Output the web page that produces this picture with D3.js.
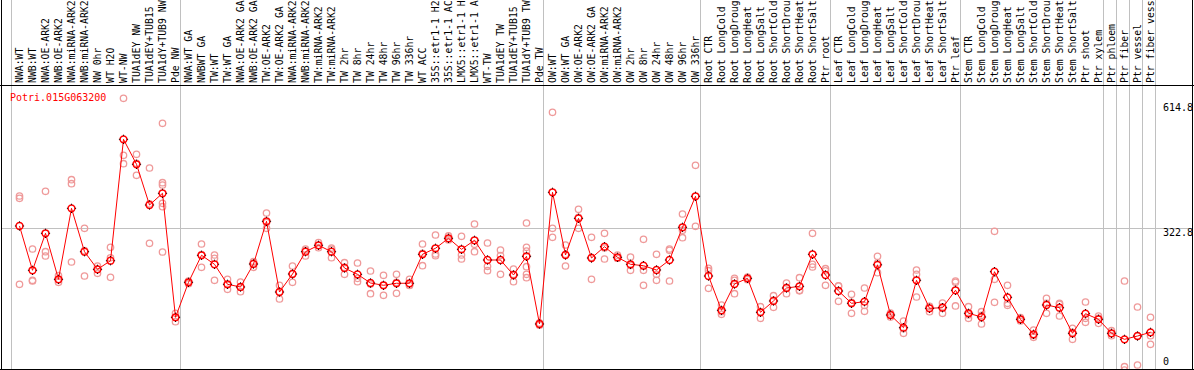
<!DOCTYPE html>
<html>
<head>
<meta charset="utf-8">
<script src="https://cdn.jsdelivr.net/npm/d3@7"></script>
<style>
  body { margin: 0; background: #fff; }
  svg { display: block; }
  text { font-family: "DejaVu Sans Mono", monospace; font-size: 10px; }
  .hdr text { font-size: 9.8px; }
</style>
</head>
<body>
<div id="chart"></div>
<script>
var width = 1194;
var height = 370;

var geneName = "Potri.015G063200";

// sample names as printed (cut to 14 characters)
var categories = [
  "NWA:WT", "NWB:WT", "NWA:OE-ARK2", "NWB:OE-ARK2", "NWA:miRNA-ARK2", "NWB:miRNA-ARK2",
  "NW 0hr", "WT H2O", "WT-NW", "TUA1dEY NW", "TUA1dEY+TUB15", "TUA1dY+TUB9 NW", "Pde NW",
  "NWA:WT GA", "NWBWT GA", "TW:WT", "TW:WT GA", "NWA:OE-ARK2 GA", "NWB:OE-ARK2 GA",
  "TW:OE-ARK2", "TW:OE-ARK2 GA", "NWA:miRNA-ARK2", "NWB:miRNA-ARK2", "TW:miRNA-ARK2",
  "TW:miRNA-ARK2", "TW 2hr", "TW 8hr", "TW 24hr", "TW 48hr", "TW 96hr", "TW 336hr",
  "WT ACC", "35S::etr1-1 H2", "35S::etr1-1 AC", "LMX5::etr1-1 H", "LMX5::etr1-1 A",
  "WT-TW", "TUA1dEY TW", "TUA1dEY+TUB15", "TUA1dY+TUB9 TW", "Pde TW",
  "OW:WT", "OW:WT GA", "OW:OE-ARK2", "OW:OE-ARK2 GA", "OW:miRNA-ARK2", "OW:miRNA-ARK2",
  "OW 2hr", "OW 8hr", "OW 24hr", "OW 48hr", "OW 96hr", "OW 336hr",
  "Root CTR", "Root LongCold", "Root LongDroug", "Root LongHeat", "Root LongSalt",
  "Root ShortCold", "Root ShortDrou", "Root ShortHeat", "Root ShortSalt", "Ptr root",
  "Leaf CTR", "Leaf LongCold", "Leaf LongDroug", "Leaf LongHeat", "Leaf LongSalt",
  "Leaf ShortCold", "Leaf ShortDrou", "Leaf ShortHeat", "Leaf ShortSalt", "Ptr leaf",
  "Stem CTR", "Stem LongCold", "Stem LongDroug", "Stem LongHeat", "Stem LongSalt",
  "Stem ShortCold", "Stem ShortDrou", "Stem ShortHeat", "Stem ShortSalt", "Ptr shoot",
  "Ptr xylem", "Ptr phloem", "Ptr fiber", "Ptr vessel", "Ptr fiber vess"
];

// first category index of each sample group (last entry = end)
var groupStarts = [0, 13, 41, 53, 63, 73, 84, 85, 86, 87, 88];

var means = [
  328.4, 229.0, 312.0, 208.8, 368.0, 270.7, 231.2, 250.5, 522.8, 466.8, 375.5, 401.7, 123.6,
  202.1, 262.7, 242.5, 197.6, 191.6, 243.1, 338.9, 180.3, 220.7, 270.7, 285.1, 270.7, 234.2,
  220.0, 200.5, 195.4, 199.9, 199.9, 264.9, 278.4, 300.8, 276.1, 296.3, 252.1, 252.1, 218.5,
  260.4, 108.6,
  404.0, 263.3, 345.6, 256.6, 281.9, 258.2, 242.5, 239.3, 229.7, 252.1, 325.5, 395.0,
  216.2, 139.3, 198.3, 211.0, 134.8, 160.2, 189.3, 193.1, 264.9, 218.5,
  182.6, 155.0, 158.6, 241.3, 128.7, 100.3, 206.6, 143.8, 145.1, 184.2,
  132.6, 124.3, 225.9, 168.4, 119.1, 85.5, 151.2, 145.1, 87.7, 131.7, 119.1,
  87.7, 74.2, 81.6, 89.9
];

var replicates = [
  [395.7, 390.5, 197.6], [276.8, 206.6, 205], [406.2, 270.7, 261.1], [216.9, 202.1, 208],
  [432.2, 423.3, 247.6], [323.2, 216.2, 273], [238.7, 231.2, 222.3], [280.6, 213.3, 257],
  [614.8, 487.0, 468.1], [489.2, 442.1, 469], [458.5, 289.6, 378],
  [558.7, 425.5, 420.3, 379.3, 371.7, 270.0], [132.6, 123.6, 113.7],
  [205, 199, 202], [288, 235.7, 264], [263.3, 255.9, 206.6], [208.8, 186.4, 197],
  [202.8, 181, 191], [248.3, 235.7, 245], [357.5, 323.2, 336], [195.4, 164.6, 181],
  [238.7, 202.1, 221], [276.8, 261.1, 274], [291, 279.7, 285], [279, 257.3, 276],
  [246.1, 220, 236], [245.4, 203.4, 211], [227.4, 176.5, 198], [217.8, 172.9, 196],
  [220, 177.4, 202], [208.8, 196, 195], [288, 239.3, 267], [308.2, 265.6, 261.8],
  [306, 299, 297], [305.3, 263.3, 254.4], [332.9, 287.3, 270.7], [290.2, 238, 228.1],
  [274.5, 220, 262], [231.9, 203.4, 220], [335.1, 280.6, 272.3, 237.1, 220, 212.4],
  [111, 106, 109],
  [583.4, 323.2, 303], [285.8, 238.7, 265], [365.8, 323.2, 348], [303, 208.8, 258],
  [312, 254.4, 279], [263, 256, 256], [258.8, 229, 240], [298.5, 229, 195.4],
  [264.9, 220, 206.6], [276.8, 273.9, 205], [355.3, 302.1, 319], [464.5, 327.7],
  [233.5, 228.1, 188.6], [151.2, 130.3, 136], [211, 206.6, 176.5], [214, 210, 208],
  [147.4, 121.3, 136], [172, 146, 162], [200.5, 176.5, 191], [212.4, 184.2, 183],
  [312, 242.5, 236.4], [232.6, 195.4, 228],
  [193.8, 159.5, 194], [175.2, 132.6, 157], [189.3, 137, 150], [260.4, 223.6, 245],
  [133, 124, 129], [115.3, 87.7, 98], [229.7, 220, 169.1], [147.4, 136, 148],
  [155.7, 132.6, 147], [205, 202.1, 149],
  [147.4, 121.3, 129], [136.2, 108.6, 128], [316.5, 208.8, 157.2], [195.4, 155, 150.5],
  [122.8, 115.3, 119], [95.1, 78.7, 83], [166.2, 132.6, 155], [155, 126.5, 153],
  [98.9, 74.2, 90], [157.9, 121.3, 112.4], [126.5, 121.3, 110],
  [93.5, 82.3, 87], [205, 12.8, 5], [146.7, 16.6, 81.5], [123.6, 82.3, 63]
];

var yTicks = [0, 322.8, 614.8];

var headerH = 85;
var plotTop = 86;
var plotBottom = 369;

var svg = d3.select("#chart")
  .append("svg")
    .attr("width", width)
    .attr("height", height);

var x = d3.scaleLinear()
  .domain([0, categories.length - 1])
  .range([19.5, 19.5 + 13 * (categories.length - 1)]);

var y = d3.scaleLinear()
  .domain([0, 614.8])
  .range([372.4, 98.3]);

// clip for the plot body
svg.append("clipPath").attr("id", "plotclip")
  .append("rect")
    .attr("x", 1).attr("y", plotTop)
    .attr("width", width - 2).attr("height", plotBottom - plotTop);

// group separators
svg.append("g").selectAll("line")
  .data(groupStarts)
  .enter().append("line")
    .attr("x1", d => Math.floor(x(d) - 8.5) + 0.5)
    .attr("x2", d => Math.floor(x(d) - 8.5) + 0.5)
    .attr("y1", 0)
    .attr("y2", plotBottom)
    .attr("stroke", "#c0c0c0")
    .attr("stroke-width", 1);

// horizontal grid line (middle tick only)
svg.append("g").selectAll("line")
  .data(yTicks.filter(d => d > 0 && d < d3.max(yTicks)))
  .enter().append("line")
    .attr("x1", 1)
    .attr("x2", width - 1)
    .attr("y1", d => Math.round(y(d)) + 0.5)
    .attr("y2", d => Math.round(y(d)) + 0.5)
    .attr("stroke", "#c0c0c0");

// header labels
svg.append("g").attr("class", "hdr").selectAll("text")
  .data(categories)
  .enter().append("text")
    .attr("transform", (d, i) => `translate(${x(i) + 3.5}, 83) rotate(-90)`)
    .attr("fill", "#000")
    .text(d => d);

// frame
svg.append("line").attr("x1", 0).attr("x2", width).attr("y1", headerH + 0.5).attr("y2", headerH + 0.5)
  .attr("stroke", "#000");
svg.append("line").attr("x1", 0).attr("x2", width).attr("y1", plotBottom + 0.5).attr("y2", plotBottom + 0.5)
  .attr("stroke", "#000");
svg.append("line").attr("x1", 1.5).attr("x2", 1.5).attr("y1", 0).attr("y2", height)
  .attr("stroke", "#000");

var plot = svg.append("g").attr("clip-path", "url(#plotclip)");

// replicate points
var reps = [];
replicates.forEach(function(list, i) {
  list.forEach(function(v) { reps.push({i: i, v: v}); });
});

plot.append("g").selectAll("circle")
  .data(reps)
  .enter().append("circle")
    .attr("cx", d => x(d.i))
    .attr("cy", d => y(d.v))
    .attr("r", 3.2)
    .attr("fill", "none")
    .attr("stroke", "#ef9a9a")
    .attr("stroke-width", 1.3);

// mean line
var line = d3.line()
  .x((d, i) => x(i))
  .y(d => y(d));

plot.append("path")
  .datum(means)
  .attr("d", line)
  .attr("fill", "none")
  .attr("stroke", "#ff0000")
  .attr("stroke-width", 1);

var meanPts = plot.append("g").selectAll("g")
  .data(means)
  .enter().append("g")
    .attr("transform", (d, i) => `translate(${x(i)}, ${y(d)})`);

meanPts.append("circle")
  .attr("r", 3.4)
  .attr("fill", "none")
  .attr("stroke", "#ff0000")
  .attr("stroke-width", 1.5);

meanPts.selectAll("rect")
  .data([[0, -4.6], [0, 3.6], [-4.6, 0], [3.6, 0]])
  .enter().append("rect")
    .attr("x", d => d[0] - (d[0] === 0 ? 0.5 : 0))
    .attr("y", d => d[1] - (d[1] === 0 ? 0.5 : 0))
    .attr("width", 1)
    .attr("height", 1)
    .attr("fill", "#000");

// title
svg.append("text")
  .attr("x", 10)
  .attr("y", 101)
  .attr("fill", "#ff0000")
  .text(geneName);

// right value labels
var labelShift = d => d === 0 ? -7 : (d === d3.max(yTicks) ? 12.7 : 8);
svg.append("g").selectAll("text")
  .data(yTicks)
  .enter().append("text")
    .attr("x", 1163)
    .attr("y", d => y(d) + labelShift(d))
    .attr("fill", "#000")
    .text(d => d === 0 ? "0" : d3.format(".1f")(d));

// right frame drawn last so it sits over the labels
svg.append("line").attr("x1", width - 1.5).attr("x2", width - 1.5).attr("y1", 0).attr("y2", height)
  .attr("stroke", "#000");
</script>
</body>
</html>
